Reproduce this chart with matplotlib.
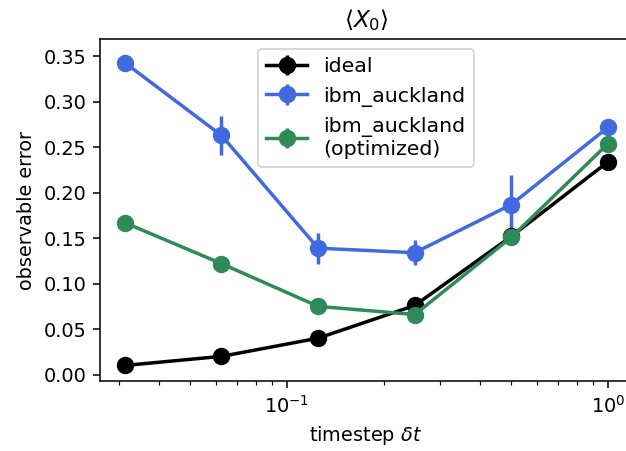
import matplotlib
matplotlib.use("Agg")
import matplotlib.pyplot as plt
import numpy as np

# timesteps
dt = [1/32, 1/16, 1/8, 1/4, 1/2, 1]

err_ideal = [0.010, 0.020, 0.040, 0.076, 0.152, 0.234]
std_ideal = [0.0, 0.0, 0.0, 0.0, 0.0, 0.0]

err_auckland = [0.343, 0.263, 0.139, 0.134, 0.187, 0.272]
std_auckland = [0.009, 0.021, 0.017, 0.014, 0.033, 0.004]

err_auckland_opt = [0.167, 0.122, 0.075, 0.066, 0.151, 0.254]
std_auckland_opt = [0.002, 0.002, 0.002, 0.002, 0.002, 0.002]

dpi = 139
fig = plt.figure(figsize=(626 / dpi, 451 / dpi), dpi=dpi)
# axes runs past the right edge of the picture, like the reference crop
ax = fig.add_axes([100 / 626, 1 - 381 / 451, 532 / 626, 342 / 451])

ax.errorbar(dt, err_ideal, yerr=std_ideal, marker='o', color='black',
            lw=1.8, ms=8, label='ideal')
ax.errorbar(dt, err_auckland, yerr=std_auckland, marker='o', color='royalblue',
            lw=1.8, ms=8, label='ibm_auckland')
ax.errorbar(dt, err_auckland_opt, yerr=std_auckland_opt, marker='o', color='seagreen',
            lw=1.8, ms=8, label='ibm_auckland\n(optimized)')

ax.set_xscale('log')
ax.set_xlim(10 ** -1.5826, 10 ** 0.0748)
ax.spines['right'].set_visible(False)
ax.set_xlabel(r'timestep $\delta t$')
ax.set_ylabel('observable error')
ax.set_title(r'$\langle X_0 \rangle$')
ax.legend(loc='upper center', fontsize=10.6)

fig.savefig('out.png', dpi=dpi)
